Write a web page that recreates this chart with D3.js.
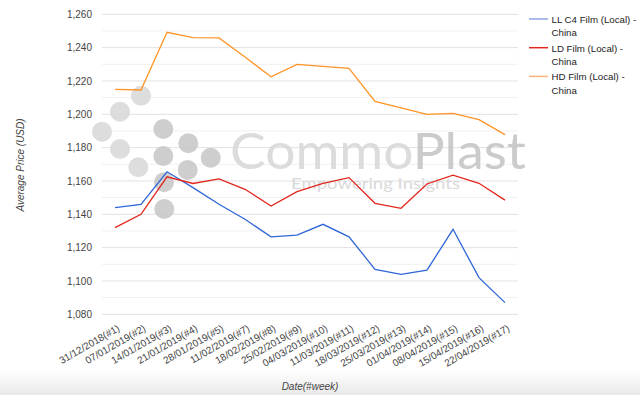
<!DOCTYPE html>
<html>
<head>
<meta charset="utf-8">
<script src="https://cdn.jsdelivr.net/npm/d3@7"></script>
<style>
  body { margin: 0; background: #fff; }
  svg { display: block; font-family: "Liberation Sans", Arial, sans-serif; }
  .tick text { fill: #444; font-size: 10px; }
  .title { fill: #444; font-size: 10px; font-style: italic; }
  .legend text { fill: #222; font-size: 9.7px; }
</style>
</head>
<body>
<svg id="chart"></svg>
<script>
// categories (x axis)
var weeks = ["31/12/2018(#1)", "07/01/2019(#2)", "14/01/2019(#3)", "21/01/2019(#4)",
             "28/01/2019(#5)", "11/02/2019(#7)", "18/02/2019(#8)", "25/02/2019(#9)",
             "04/03/2019(#10)", "11/03/2019(#11)", "18/03/2019(#12)", "25/03/2019(#13)",
             "01/04/2019(#14)", "08/04/2019(#15)", "15/04/2019(#16)", "22/04/2019(#17)"];

// series values
var llc4 = [1144, 1146, 1165.5, 1156, 1146, 1137, 1126.5, 1127.5, 1134, 1126.5,
            1107, 1104, 1106.5, 1131, 1102, 1087];
var ldFilm = [1132, 1140, 1162.5, 1158.5, 1161.2, 1155, 1145, 1153.6, 1158.5, 1162,
              1146.6, 1143.6, 1158.2, 1163.5, 1158.6, 1148.5];
var hdFilm = [1215, 1214.6, 1249.2, 1246, 1245.8, 1234.4, 1222.5, 1230, 1228.8, 1227.6,
              1207.8, 1203.8, 1200, 1200.6, 1196.8, 1187.8];

var seriesNames = ["LL C4 Film (Local) - China", "LD Film (Local) - China", "HD Film (Local) - China"];
var seriesColors = ["#2f66d6", "#e2261d", "#ff9426"];
var legendColors = ["#90a6e2", "#e2261d", "#ffb27c"];

// y ticks
var yTicks = [1080, 1100, 1120, 1140, 1160, 1180, 1200, 1220, 1240, 1260];
var yMinor = [1090, 1110, 1130, 1150, 1170, 1190, 1210, 1230, 1250];

var screen = {width: 640, height: 395};
var plot = {left: 102, right: 518, top: 14.3, bottom: 314.3};

var svg = d3.select("#chart")
    .attr("width", screen.width)
    .attr("height", screen.height);

// faint shadow at the bottom edge
var defs = svg.append("defs");
var grad = defs.append("linearGradient")
    .attr("id", "shade").attr("x1", 0).attr("x2", 0).attr("y1", 0).attr("y2", 1);
grad.append("stop").attr("offset", "0%").attr("stop-color", "#fff");
grad.append("stop").attr("offset", "100%").attr("stop-color", "#e9e9e9");
svg.append("rect")
    .attr("x", 0).attr("y", 370).attr("width", screen.width).attr("height", 25)
    .attr("fill", "url(#shade)");

var xScale = d3.scalePoint()
    .domain(weeks)
    .range([plot.left, plot.right])
    .padding(0.5);

var yScale = d3.scaleLinear()
    .domain([1080, 1260])
    .range([plot.bottom, plot.top]);

// grid lines
var grid = svg.append("g");
grid.selectAll("line.minor")
    .data(yMinor)
    .enter()
    .append("line")
    .attr("x1", plot.left).attr("x2", plot.right)
    .attr("y1", function(d) { return yScale(d); })
    .attr("y2", function(d) { return yScale(d); })
    .attr("stroke", "#f1f1f1");
grid.selectAll("line.major")
    .data(yTicks)
    .enter()
    .append("line")
    .attr("x1", plot.left).attr("x2", plot.right)
    .attr("y1", function(d) { return yScale(d); })
    .attr("y2", function(d) { return yScale(d); })
    .attr("stroke", "#e2e2e2");

// watermark logo (decoration)
var logoLight = [[102, 131.7], [120, 111.7], [141, 95.7], [120, 149], [138.3, 167.3]];
var logoDark = [[163.3, 129], [188.3, 143.3], [163.3, 156], [210.7, 157.7],
                [187.7, 170], [164, 182.3], [164.3, 209]];
var logo = svg.append("g").attr("opacity", 0.9);
logo.selectAll("circle.l")
    .data(logoLight)
    .enter()
    .append("circle")
    .attr("cx", function(d) { return d[0]; })
    .attr("cy", function(d) { return d[1]; })
    .attr("r", 10)
    .attr("fill", "#dadada");
logo.selectAll("circle.d")
    .data(logoDark)
    .enter()
    .append("circle")
    .attr("cx", function(d) { return d[0]; })
    .attr("cy", function(d) { return d[1]; })
    .attr("r", 10)
    .attr("fill", "#c9c9c9");
var brand = logo.append("text")
    .attr("x", 230).attr("y", 169)
    .attr("textLength", 296)
    .attr("lengthAdjust", "spacingAndGlyphs")
    .style("font-family", "Lato, 'Open Sans', sans-serif")
    .style("font-weight", 400)
    .style("font-size", "50px");
brand.append("tspan").text("Commo").attr("fill", "#d9d9d9");
brand.append("tspan").text("Plast").attr("fill", "#c6c6c6");
logo.append("text")
    .text("Empowering Insights")
    .attr("x", 291).attr("y", 188.5)
    .attr("textLength", 169)
    .attr("lengthAdjust", "spacingAndGlyphs")
    .attr("fill", "#d6d6d6")
    .style("font-family", "Lato, 'Open Sans', sans-serif")
    .style("font-weight", 400)
    .style("font-size", "16px");

// axes
var yAxis = d3.axisLeft(yScale)
    .tickValues(yTicks)
    .tickSize(0)
    .tickPadding(10)
    .tickFormat(d3.format(","));
var yG = svg.append("g")
    .attr("transform", "translate(" + plot.left + ",0)")
    .call(yAxis);
yG.select(".domain").remove();

var xAxis = d3.axisBottom(xScale).tickSize(0);
var xG = svg.append("g")
    .attr("transform", "translate(0," + plot.bottom + ")")
    .call(xAxis);
xG.select(".domain").remove();
xG.selectAll("text")
    .attr("text-anchor", "end")
    .attr("dy", null)
    .attr("y", 0)
    .attr("transform", "translate(5,16) rotate(-30)");

// lines
var line = d3.line()
    .x(function(d, i) { return xScale(weeks[i]); })
    .y(function(d) { return yScale(d); });

var allSeries = [llc4, ldFilm, hdFilm];
svg.append("g")
    .selectAll("path")
    .data(allSeries)
    .enter()
    .append("path")
    .attr("d", line)
    .attr("fill", "none")
    .attr("stroke", function(d, i) { return seriesColors[i]; })
    .attr("stroke-width", 1.3);

// axis titles
svg.append("text")
    .classed("title", true)
    .text("Average Price (USD)")
    .attr("text-anchor", "middle")
    .attr("transform", "translate(24,165) rotate(-90)");
svg.append("text")
    .classed("title", true)
    .text("Date(#week)")
    .attr("text-anchor", "middle")
    .attr("x", 310)
    .attr("y", 390);

// legend
var legend = svg.append("g").classed("legend", true);
var entry = legend.selectAll("g")
    .data(seriesNames)
    .enter()
    .append("g")
    .attr("transform", function(d, i) { return "translate(529," + (19 + i * 28.7) + ")"; });
entry.append("line")
    .attr("x1", 0).attr("x2", 19)
    .attr("y1", 0).attr("y2", 0)
    .attr("stroke", function(d, i) { return legendColors[i]; })
    .attr("stroke-width", 1.5);
entry.append("text")
    .attr("x", 22.5)
    .attr("y", 4)
    .each(function(d) {
        var parts = d.split(" - ");
        d3.select(this).append("tspan").attr("x", 22.5).text(parts[0] + " -");
        d3.select(this).append("tspan").attr("x", 22.5).attr("dy", 13.3).text(parts[1]);
    });
</script>
</body>
</html>
